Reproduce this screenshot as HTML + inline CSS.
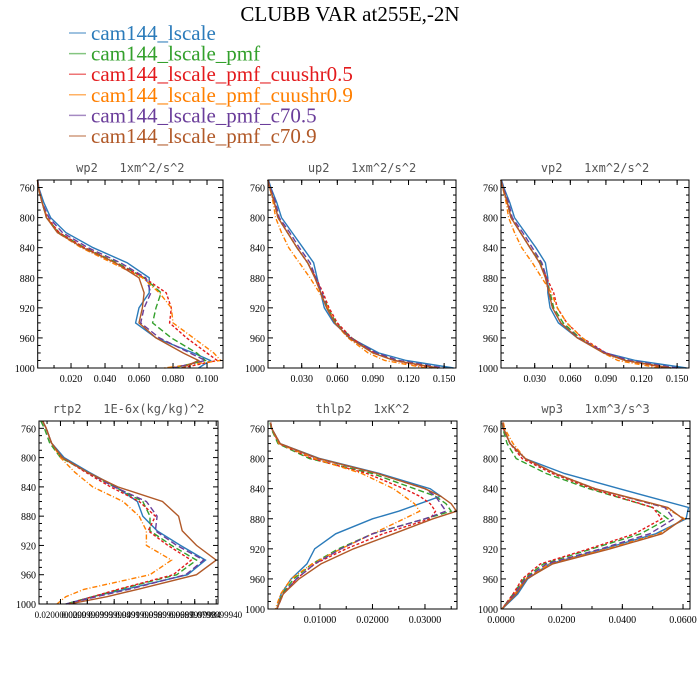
<!DOCTYPE html>
<html><head><meta charset="utf-8"><style>
html,body{margin:0;padding:0;background:#fff;}
svg{display:block;}
</style></head><body>
<svg id="chart" width="700" height="700" viewBox="0 0 700 700" xmlns="http://www.w3.org/2000/svg">
<text x="350" y="21" text-anchor="middle" font-family="Liberation Serif, serif" font-size="21">CLUBB VAR at255E,-2N</text>
<g id="legend"></g>
<g id="panels"></g>
</svg>
<script>
const seriesNames = ["cam144_lscale","cam144_lscale_pmf","cam144_lscale_pmf_cuushr0.5","cam144_lscale_pmf_cuushr0.9","cam144_lscale_pmf_c70.5","cam144_lscale_pmf_c70.9"];
const yTicks = [760,800,840,880,920,960,1000];

const levelsA = [750,760,780,800,820,840,860,880,900,920,940,960,980,990,1000];
const wp2Blue   = [0.0005,0.001,0.004,0.008,0.017,0.033,0.053,0.066,0.066,0.060,0.058,0.070,0.092,0.102,0.095];
const wp2Green  = [0.0003,0.0008,0.003,0.0055,0.013,0.028,0.047,0.063,0.073,0.070,0.068,0.079,0.094,0.099,0.080];
const wp2Red    = [0.0003,0.0008,0.003,0.006,0.013,0.028,0.046,0.063,0.076,0.079,0.078,0.088,0.100,0.106,0.085];
const wp2Orange = [0.0003,0.0008,0.003,0.006,0.012,0.026,0.044,0.062,0.072,0.079,0.080,0.092,0.104,0.108,0.075];
const wp2Purple = [0.0003,0.001,0.003,0.007,0.015,0.030,0.049,0.064,0.067,0.063,0.061,0.072,0.090,0.099,0.080];
const wp2Brown  = [0.0003,0.0008,0.003,0.0055,0.012,0.027,0.046,0.060,0.063,0.062,0.060,0.070,0.086,0.095,0.085];
const wp2Ticks = [0.02,0.04,0.06,0.08,0.10];
const wp2TickLabels = ["0.020","0.040","0.060","0.080","0.100"];

const up2Blue   = [0.002,0.004,0.009,0.013,0.022,0.031,0.040,0.043,0.046,0.049,0.057,0.071,0.095,0.118,0.158];
const up2Green  = [0.0015,0.003,0.007,0.010,0.018,0.026,0.035,0.042,0.047,0.052,0.059,0.072,0.092,0.110,0.145];
const up2Red    = [0.0015,0.003,0.007,0.010,0.018,0.026,0.035,0.042,0.048,0.053,0.060,0.072,0.091,0.108,0.140];
const up2Orange = [0.0015,0.003,0.006,0.008,0.013,0.019,0.028,0.037,0.045,0.052,0.058,0.069,0.086,0.100,0.135];
const up2Purple = [0.0015,0.0035,0.008,0.011,0.020,0.028,0.037,0.042,0.047,0.051,0.058,0.071,0.093,0.112,0.150];
const up2Brown  = [0.0015,0.003,0.007,0.010,0.018,0.026,0.035,0.041,0.046,0.051,0.058,0.070,0.090,0.108,0.145];

const vp2Blue   = [0.002,0.004,0.009,0.013,0.022,0.031,0.039,0.041,0.041,0.043,0.050,0.066,0.090,0.115,0.158];
const vp2Green  = [0.0015,0.003,0.007,0.010,0.018,0.026,0.035,0.040,0.043,0.046,0.054,0.068,0.089,0.108,0.145];
const vp2Red    = [0.0015,0.003,0.007,0.010,0.018,0.026,0.034,0.040,0.046,0.049,0.057,0.070,0.090,0.107,0.140];
const vp2Orange = [0.0015,0.003,0.006,0.008,0.013,0.019,0.028,0.036,0.044,0.049,0.057,0.070,0.088,0.100,0.135];
const vp2Purple = [0.0015,0.0035,0.008,0.011,0.020,0.028,0.036,0.040,0.042,0.045,0.052,0.067,0.090,0.110,0.150];
const vp2Brown  = [0.0015,0.003,0.007,0.010,0.018,0.026,0.034,0.039,0.042,0.045,0.052,0.066,0.088,0.106,0.145];
const uvTicks = [0.03,0.06,0.09,0.12,0.15];
const uvTickLabels = ["0.030","0.060","0.090","0.120","0.150"];

const rtp2Blue   = [0.02,0.04,0.07,0.14,0.28,0.43,0.55,0.58,0.66,0.79,0.93,0.83,0.48,0.30,0.15];
const rtp2Green  = [0.01,0.03,0.06,0.12,0.27,0.42,0.58,0.62,0.62,0.74,0.88,0.77,0.45,0.30,0.15];
const rtp2Red    = [0.02,0.04,0.07,0.13,0.26,0.40,0.56,0.65,0.61,0.72,0.85,0.75,0.44,0.30,0.16];
const rtp2Orange = [0.02,0.04,0.07,0.12,0.20,0.30,0.47,0.56,0.60,0.60,0.74,0.62,0.25,0.15,0.10];
const rtp2Purple = [0.02,0.04,0.07,0.13,0.27,0.42,0.60,0.66,0.65,0.77,0.92,0.82,0.50,0.32,0.15];
const rtp2Brown  = [0.02,0.04,0.07,0.13,0.27,0.44,0.69,0.78,0.80,0.88,0.99,0.88,0.55,0.38,0.17];
const rtp2Ticks = [0.12,0.27,0.42,0.57,0.72,0.87,0.99];
const rtp2TickLabels = ["0.0200000000","0.0299999993","0.0399999991","0.0499999989","0.0599999987","0.0699999984","0.0799999940"];

const levelsT = [752,760,780,800,820,840,850,860,870,880,900,920,940,960,980,1000];
const thlBlue   = [0.0006,0.0008,0.0024,0.010,0.0214,0.031,0.033,0.029,0.025,0.020,0.013,0.009,0.0075,0.0045,0.0026,0.0018];
const thlGreen  = [0.0005,0.0007,0.0020,0.0080,0.020,0.028,0.032,0.034,0.035,0.030,0.020,0.0135,0.0085,0.005,0.0028,0.0018];
const thlRed    = [0.0006,0.0008,0.0022,0.0085,0.019,0.026,0.029,0.031,0.032,0.031,0.022,0.015,0.009,0.0055,0.003,0.0018];
const thlOrange = [0.0006,0.0008,0.0022,0.0090,0.018,0.024,0.026,0.028,0.029,0.026,0.020,0.014,0.0085,0.0045,0.0025,0.0015];
const thlPurple = [0.0006,0.0008,0.0024,0.0095,0.021,0.030,0.032,0.033,0.034,0.030,0.020,0.014,0.009,0.0055,0.003,0.0018];
const thlBrown  = [0.0006,0.0008,0.0024,0.0098,0.021,0.030,0.033,0.035,0.036,0.0315,0.024,0.0164,0.0102,0.006,0.003,0.0018];
const thlTicks = [0.01,0.02,0.03];
const thlTickLabels = ["0.01000","0.02000","0.03000"];

const levelsW = [752,760,780,800,820,840,865,880,900,920,940,960,980,1000];
const wp3Blue   = [0.0005,0.0008,0.003,0.008,0.021,0.039,0.0618,0.061,0.051,0.034,0.016,0.0088,0.0055,0.0004];
const wp3Green  = [0.0004,0.0006,0.002,0.005,0.015,0.029,0.050,0.055,0.046,0.030,0.014,0.0075,0.004,0.0003];
const wp3Red    = [0.0005,0.0007,0.003,0.007,0.017,0.030,0.050,0.053,0.044,0.029,0.013,0.007,0.004,0.0003];
const wp3Orange = [0.0008,0.0012,0.004,0.008,0.018,0.031,0.054,0.0605,0.052,0.035,0.016,0.008,0.0045,0.0003];
const wp3Purple = [0.0005,0.0008,0.003,0.008,0.018,0.031,0.054,0.057,0.049,0.033,0.015,0.008,0.0045,0.0003];
const wp3Brown  = [0.0006,0.0009,0.003,0.008,0.018,0.031,0.055,0.060,0.053,0.036,0.017,0.0085,0.005,0.0003];
const wp3Ticks = [0,0.02,0.04,0.06];
const wp3TickLabels = ["0.0000","0.0200","0.0400","0.0600"];

const colors = ["#2b7bba","#33a02c","#e31a1c","#ff7f00","#6a3d9a","#b15928"];
const dashes = ["","6,3","3,2","5,2,1,2","6,3",""];
const NS = "http://www.w3.org/2000/svg";
function mk(tag, attrs, parent){const e=document.createElementNS(NS,tag);for(const k in attrs)e.setAttribute(k,attrs[k]);parent.appendChild(e);return e;}

const leg = document.getElementById('legend');
seriesNames.forEach((n,i)=>{
  const y = 40 + i*20.6;
  const ln = mk('line',{x1:69,x2:86,y1:y-7,y2:y-7,stroke:colors[i],'stroke-width':1.5,opacity:0.6},leg);
  
  
  const t = mk('text',{x:91,y:y,fill:colors[i],'font-family':'Liberation Serif, serif','font-size':21},leg);
  
  
  t.textContent = n;
});

const panels = [
 {name:'wp2',title:'wp2   1xm^2/s^2',L:37.7,R:223,T:180,B:368,xmin:0.0004,xmax:0.1094,levels:levelsA,series:[wp2Blue,wp2Green,wp2Red,wp2Orange,wp2Purple,wp2Brown],ticks:wp2Ticks,labels:wp2TickLabels,minor:0.01},
 {name:'up2',title:'up2   1xm^2/s^2',L:268,R:456,T:180,B:368,xmin:0.0016,xmax:0.160,levels:levelsA,series:[up2Blue,up2Green,up2Red,up2Orange,up2Purple,up2Brown],ticks:uvTicks,labels:uvTickLabels,minor:0.015},
 {name:'vp2',title:'vp2   1xm^2/s^2',L:501,R:689,T:180,B:368,xmin:0.0016,xmax:0.160,levels:levelsA,series:[vp2Blue,vp2Green,vp2Red,vp2Orange,vp2Purple,vp2Brown],ticks:uvTicks,labels:uvTickLabels,minor:0.015},
 {name:'rtp2',title:'rtp2   1E-6x(kg/kg)^2',L:39,R:218,T:421,B:604,xmin:0,xmax:1,levels:levelsA,series:[rtp2Blue,rtp2Green,rtp2Red,rtp2Orange,rtp2Purple,rtp2Brown],ticks:rtp2Ticks,labels:rtp2TickLabels,minor:0.075,small:true},
 {name:'thlp2',title:'thlp2   1xK^2',L:268,R:457,T:421,B:609,xmin:0.0001,xmax:0.0361,levels:levelsT,series:[thlBlue,thlGreen,thlRed,thlOrange,thlPurple,thlBrown],ticks:thlTicks,labels:thlTickLabels,minor:0.005},
 {name:'wp3',title:'wp3   1xm^3/s^3',L:501,R:690,T:421,B:609,xmin:0,xmax:0.0623,levels:levelsW,series:[wp3Blue,wp3Green,wp3Red,wp3Orange,wp3Purple,wp3Brown],ticks:wp3Ticks,labels:wp3TickLabels,minor:0.01}
];
const root = document.getElementById('panels');
panels.forEach(p=>{
  const g = mk('g',{},root);
  
  
  const xs = v => p.L + (v-p.xmin)/(p.xmax-p.xmin)*(p.R-p.L);
  const ys = v => p.T + (v-750)/250*(p.B-p.T);
  const tt = mk('text',{x:(p.L+p.R)/2,y:p.T-8,'text-anchor':'middle','font-family':'DejaVu Sans Mono, Liberation Mono, monospace','font-size':12,fill:'#555',style:'white-space:pre'},g);
  
  
  tt.textContent = p.title;
  p.series.forEach((arr,i)=>{
    const pts = arr.map((v,k)=>xs(v).toFixed(1)+','+ys(p.levels[k]).toFixed(1)).join(' ');
    const pl = mk('polyline',{points:pts,fill:'none',stroke:colors[i],'stroke-width':1.4,'stroke-dasharray':dashes[i]},g);
    
    
  });
  const fr = mk('rect',{x:p.L,y:p.T,width:p.R-p.L,height:p.B-p.T,fill:'none',stroke:'#000','stroke-width':1},g);
  
  
  for(let lv=760; lv<=1000; lv+=10){
    const y=ys(lv), major=(lv-760)%40===0, len=major?5:3;
    mk('line',{x1:p.L,x2:p.L+len,y1:y,y2:y,stroke:'#000','stroke-width':1},g);
    mk('line',{x1:p.R,x2:p.R-len,y1:y,y2:y,stroke:'#000','stroke-width':1},g);
  }
  yTicks.forEach(lv=>{
    const t=mk('text',{x:p.L-3,y:ys(lv)+4,'text-anchor':'end','font-family':'Liberation Serif, serif','font-size':10},g);
    
    
    t.textContent=lv;
  });
  let start = p.ticks[0] - Math.floor((p.ticks[0]-p.xmin)/p.minor)*p.minor;
  for(let v=start; v<=p.xmax+1e-9; v+=p.minor){
    const x=xs(v);
    mk('line',{x1:x,x2:x,y1:p.B,y2:p.B-3,stroke:'#000','stroke-width':1},g);
    mk('line',{x1:x,x2:x,y1:p.T,y2:p.T+3,stroke:'#000','stroke-width':1},g);
  }
  p.ticks.forEach((v,k)=>{
    const x=xs(v);
    mk('line',{x1:x,x2:x,y1:p.B,y2:p.B-5,stroke:'#000','stroke-width':1},g);
    mk('line',{x1:x,x2:x,y1:p.T,y2:p.T+5,stroke:'#000','stroke-width':1},g);
    const t=mk('text',{x:x,y:p.B+14,'text-anchor':'middle','font-family':'Liberation Serif, serif','font-size':p.small?9:10},g);
    
    
    t.textContent=p.labels[k];
  });
});
</script>
</body></html>
